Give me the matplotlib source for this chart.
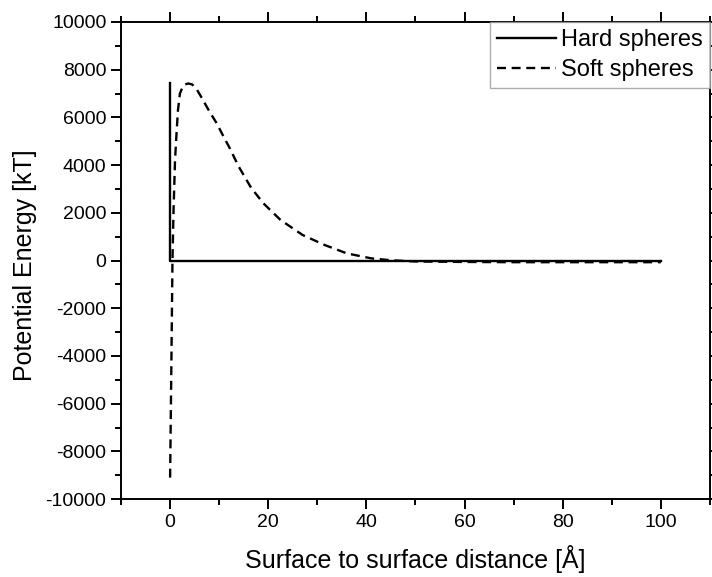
import matplotlib
matplotlib.use("Agg")
import matplotlib.pyplot as plt
from matplotlib.ticker import MultipleLocator

plt.rcParams['font.family'] = ['Liberation Sans', 'DejaVu Sans']
plt.rcParams['axes.unicode_minus'] = False

hard_x = [0.0, 0.0, 100.0]
hard_y = [7450, 0, 0]

soft_x = [0.0, 0.25, 0.48, 0.7, 1.0, 1.3, 1.6, 2.0, 2.5, 3.0, 3.7, 4.5, 5.5, 6.5,
          8.0, 9.5, 11.0, 12.0, 14.0, 16.5, 19.0, 22.5, 27.0, 31.5, 36.0, 41.0,
          45.0, 50.0, 60.0, 70.0, 80.0, 90.0, 100.0]
soft_y = [-9100, -4500, 0, 2100, 4200, 5300, 6300, 7000, 7250, 7380, 7420, 7380,
          7150, 6800, 6250, 5750, 5150, 4770, 3930, 3050, 2400, 1700, 1070, 650,
          300, 90, 10, -40, -60, -70, -70, -70, -70]

xticks = [0, 20, 40, 60, 80, 100]
yticks = list(range(-10000, 10001, 2000))

fig = plt.figure(figsize=(7.12, 5.77), dpi=100)
ax = fig.add_axes([0.170, 0.135, 0.827, 0.827])

ax.plot(hard_x, hard_y, color='black', lw=1.7, label='Hard spheres')
ax.plot(soft_x, soft_y, color='black', lw=1.7, dashes=(3.8, 2.4), label='Soft spheres')

ax.set_xlim(-10, 110)
ax.set_ylim(-10000, 10000)
ax.set_xticks(xticks)
ax.set_yticks(yticks)
ax.xaxis.set_minor_locator(MultipleLocator(10))
ax.yaxis.set_minor_locator(MultipleLocator(1000))
ax.tick_params(which='both', direction='out', top=True, right=True, width=1.4,
               labelsize=14)
ax.tick_params(which='major', length=7)
ax.tick_params(which='minor', length=4)
for s in ax.spines.values():
    s.set_linewidth(1.4)

ax.set_xlabel('Surface to surface distance [Å]', fontsize=18)
ax.xaxis.set_label_coords(0.5, -0.097)
ax.set_ylabel('Potential Energy [kT]', fontsize=18)
ax.yaxis.set_label_coords(-0.143, 0.49)

leg = ax.legend(loc='upper right', fontsize=17, frameon=True, fancybox=False,
                borderaxespad=0.0, handlelength=2.5, handletextpad=0.2,
                borderpad=0.3, labelspacing=0.35, edgecolor='#999999')
leg.get_frame().set_linewidth(1.0)

fig.savefig('out.png', dpi=100)
